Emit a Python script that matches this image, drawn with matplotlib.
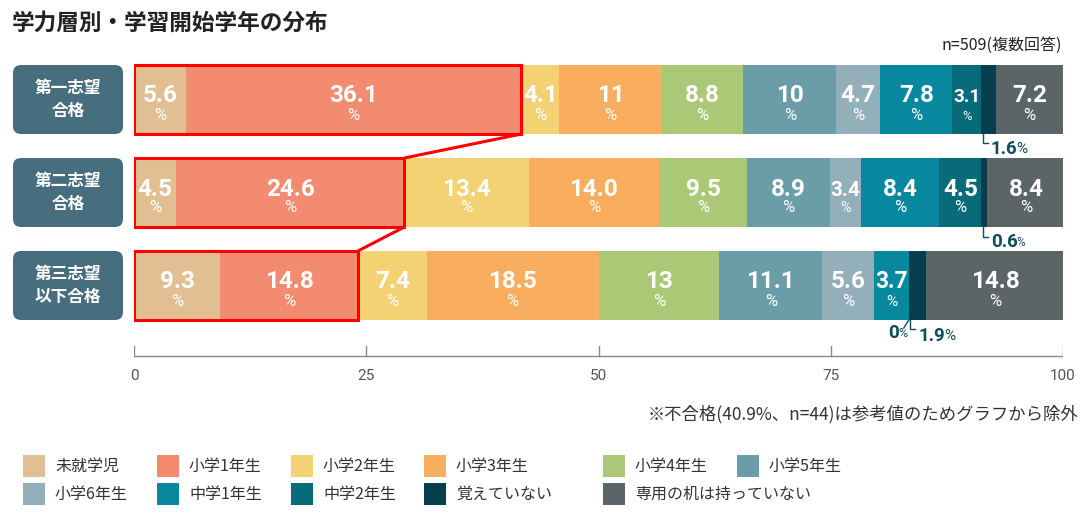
import matplotlib
matplotlib.use("Agg")
import matplotlib.pyplot as plt
from matplotlib.patches import Rectangle, FancyBboxPatch
from matplotlib import font_manager

plt.rcParams['font.family'] = ['Noto Sans CJK JP', 'DejaVu Sans']

# ---------------- data ----------------
title = "学力層別・学習開始学年の分布"
note_n = "n=509(複数回答)"
note_ex = "※不合格(40.9%、n=44)は参考値のためグラフから除外"
row_names = ["第一志望\n合格", "第二志望\n合格", "第三志望\n以下合格"]
categories = ["未就学児", "小学1年生", "小学2年生", "小学3年生", "小学4年生", "小学5年生",
              "小学6年生", "中学1年生", "中学2年生", "覚えていない", "専用の机は持っていない"]
colors = ["#e1bf92", "#f38b71", "#f2d272", "#f9ae5f", "#abc877", "#6a9da8",
          "#93afb9", "#08889f", "#086b79", "#053f4d", "#5b6467"]
values_r1 = [5.6, 36.1, 4.1, 11, 8.8, 10, 4.7, 7.8, 3.1, 1.6, 7.2]
values_r2 = [4.5, 24.6, 13.4, 14.0, 9.5, 8.9, 3.4, 8.4, 4.5, 0.6, 8.4]
values_r3 = [9.3, 14.8, 7.4, 18.5, 13, 11.1, 5.6, 3.7, 0, 1.9, 14.8]
labels_r1 = ["5.6", "36.1", "4.1", "11", "8.8", "10", "4.7", "7.8", "3.1", "1.6", "7.2"]
labels_r2 = ["4.5", "24.6", "13.4", "14.0", "9.5", "8.9", "3.4", "8.4", "4.5", "0.6", "8.4"]
labels_r3 = ["9.3", "14.8", "7.4", "18.5", "13", "11.1", "5.6", "3.7", "0", "1.9", "14.8"]
xticks = [0, 25, 50, 75, 100]

all_values = [values_r1, values_r2, values_r3]
all_labels = [labels_r1, labels_r2, labels_r3]

# ---------------- fonts ----------------
def has_font(name):
    try:
        font_manager.findfont(name, fallback_to_default=False)
        return True
    except Exception:
        return False

num_font = "Roboto" if has_font("Roboto") else "DejaVu Sans"
tick_font = "Liberation Sans Narrow" if has_font("Liberation Sans Narrow") else num_font

# ---------------- layout ----------------
W, H = 1092, 522
fig = plt.figure(figsize=(W / 100, H / 100), dpi=100)
ax0 = fig.add_axes([0, 0, 1, 1])
ax0.set_xlim(0, W)
ax0.set_ylim(H, 0)
ax0.axis('off')

X0, X1 = 134, 1063
ax = fig.add_axes([X0 / W, 0, (X1 - X0) / W, 1])
ax.set_xlim(0, 100)
ax.set_ylim(H, 0)
ax.axis('off')
ax.patch.set_alpha(0)
pxu = (X1 - X0) / 100.0  # pixels per unit

bar_top = [65, 158, 251]
bar_h = 69
label_col = "#476e7f"
annot_col = "#0d4d5b"
red = "#ff0000"

# title & notes
ax0.text(12, 23, title, fontsize=16.3, fontweight='bold', color="#222222", va='center', ha='left')
ax0.text(1062, 45, note_n, fontsize=11.5, color="#222222", va='center', ha='right')
ax0.text(1078, 414, note_ex, fontsize=12.5, color="#333333", va='center', ha='right')

for r in range(3):
    top = bar_top[r]
    cy = top + bar_h / 2
    # row label box
    box = FancyBboxPatch((13 + 8, top + 8), 110 - 16, bar_h - 16,
                         boxstyle="round,pad=8", fc=label_col, ec='none')
    ax0.add_patch(box)
    lines = row_names[r].split("\n")
    ax0.text(68, cy - 11.5, lines[0], fontsize=12, fontweight='bold', color='white',
             ha='center', va='center')
    ax0.text(68, cy + 11.5, lines[1], fontsize=12, fontweight='bold', color='white',
             ha='center', va='center')

    vals = all_values[r]
    labs = all_labels[r]
    left = 0.0
    for i, (v, lab) in enumerate(zip(vals, labs)):
        ax.barh(cy, v, left=left, height=bar_h, color=colors[i], linewidth=0)
        if v >= 2:
            segpx = v * pxu
            scale = min(1.0, segpx / 37.0)
            xc = left + v / 2
            ax.text(xc, cy + 3, lab, fontsize=17.5 * scale, fontweight='bold',
                    color='white', ha='center', va='baseline', family=num_font)
            ax.text(xc, cy + 20, "%", fontsize=12 * scale,
                    color='white', ha='center', va='baseline', family=num_font)
        left += v

    # red outline around first two segments
    w2 = vals[0] + vals[1]
    ax.add_patch(Rectangle((0, top), w2, bar_h, fill=False, ec=red, lw=2.2, zorder=5))

# connectors
for r in range(2):
    wa = all_values[r][0] + all_values[r][1]
    wb = all_values[r + 1][0] + all_values[r + 1][1]
    ax.plot([wa, wb], [bar_top[r] + bar_h, bar_top[r + 1]], color=red, lw=2.2, zorder=5,
            solid_capstyle='butt')

# outside annotations for small segments
corner_y = [143, 237, 329]
base_y = [154, 247, 341]
for r in range(3):
    vals = all_values[r]
    labs = all_labels[r]
    bottom = bar_top[r] + bar_h
    for i in (8, 9):
        v = vals[i]
        if v >= 2:
            continue
        start = sum(vals[:i])
        if v == 0:
            # diagonal leader to the left
            ax.plot([start, start - 5 / pxu], [bottom, corner_y[r] - 1], color=annot_col, lw=1)
            t = ax.text(start - 10 / pxu, base_y[r] - 3, labs[i],
                        fontsize=13.5, fontweight='bold', color=annot_col, ha='right',
                        va='baseline', family=num_font)
            ax.annotate("%", xy=(1, 0), xycoords=t, xytext=(-0.5, 1.5), textcoords='offset points',
                        fontsize=9, color=annot_col, ha='left', va='bottom', family=num_font)
        else:
            xs = start + 0.15
            ax.plot([xs, xs, xs + 5 / pxu], [bottom, corner_y[r], corner_y[r]],
                    color=annot_col, lw=1)
            t = ax.text(xs + 8 / pxu, base_y[r], labs[i], fontsize=13.5, fontweight='bold',
                        color=annot_col, ha='left', va='baseline', family=num_font)
            ax.annotate("%", xy=(1, 0), xycoords=t, xytext=(-0.5, 1.5), textcoords='offset points',
                        fontsize=11 if r != 1 else 8.5, color=annot_col, ha='left', va='bottom',
                        family=num_font)

# axis line and ticks
ax.plot([0, 100], [356, 356], color="#8a8a8a", lw=1)
for t in xticks:
    ax.plot([t, t], [346, 356], color="#8a8a8a", lw=1)
    ax.text(t, 376, str(t), fontsize=11, color="#555555", ha='center', va='center',
            family=tick_font)

# legend
leg_x = [23, 157, 291, 424, 603, 737]
leg_y = [466, 494]
for i, cat in enumerate(categories):
    row = i // 6
    col = i % 6
    x = leg_x[col]
    y = leg_y[row]
    ax0.add_patch(Rectangle((x, y - 11), 22, 22, fc=colors[i], ec='none'))
    ax0.text(x + 32, y, cat, fontsize=11.5, color="#333333", ha='left', va='center')

fig.savefig("out.png", dpi=100)
